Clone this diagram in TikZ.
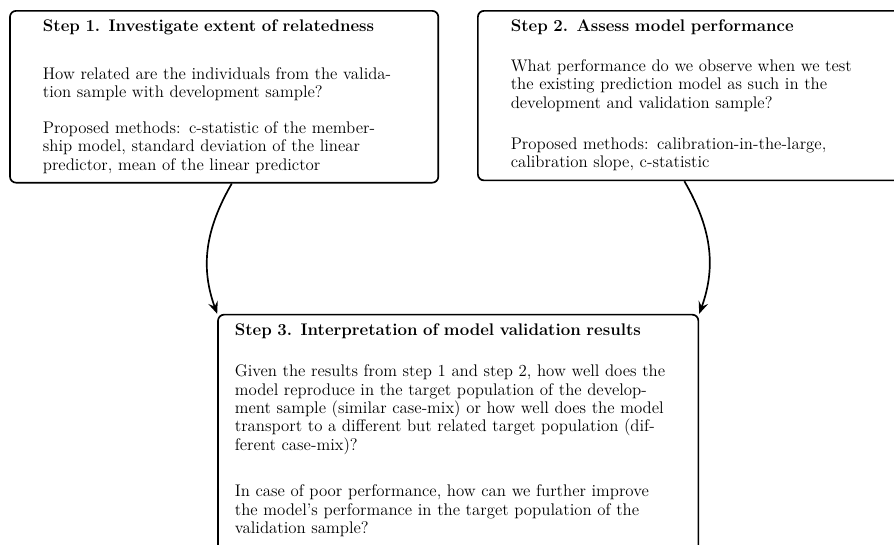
\documentclass[tikz,border=0pt]{standalone}
\usepackage{amsmath}
\usepackage{tikz}
\usetikzlibrary{arrows.meta}

\tikzset{
    stepbox/.style={draw, line width=1.1pt, rounded corners=4pt, align=left, anchor=north west,
        font=\fontsize{11pt}{12pt}\selectfont, inner xsep=21.5pt, inner ysep=6pt, text width=237pt},
    steparrow/.style={line width=1.1pt, -{Stealth[length=8pt, width=6.5pt, inset=3pt]}}
}

\begin{document}
\begin{tikzpicture}
        % Frame of the picture
        \path[use as bounding box, clip] (0,0) rectangle (20.54,-12.5);

        % Step 1
        \node[stepbox] (stepone) at (0.21,-0.23)
            {\textbf{Step 1. Investigate extent of relatedness}\\[19pt]
             How related are the individuals from the valida-\\
             tion sample with development sample?\\[11.5pt]
             Proposed methods: c-statistic of the member-\\
             ship model, standard deviation of the linear\\
             predictor, mean of the linear predictor};

        % Step 2
        \node[stepbox] (steptwo) at (10.96,-0.23)
            {\textbf{Step 2. Assess model performance}\\[14pt]
             What performance do we observe when we test\\
             the existing prediction model as such in the\\
             development and validation sample?\\[15pt]
             Proposed methods: calibration-in-the-large,\\
             calibration slope, c-statistic};

        % Step 3 (its lower edge runs off the page)
        \node[stepbox, inner xsep=11pt, text width=292pt] (stepthree) at (4.99,-7.21)
            {\textbf{Step 3. Interpretation of model validation results}\\[15pt]
             Given the results from step 1 and step 2, how well does the\\
             model reproduce in the target population of the develop-\\
             ment sample (similar case-mix) or how well does the model\\
             transport to a different but related target population (dif-\\
             ferent case-mix)?\\[18.5pt]
             In case of poor performance, how can we further improve\\
             the model's performance in the target population of the\\
             validation sample?\\[-4pt]\strut};

        % Arrows into step 3
        \draw[steparrow] ([xshift=5pt]stepone.south) to[out=-120, in=110] (stepthree.north west);
        \draw[steparrow] ([xshift=-5pt]steptwo.south) to[out=-60, in=70] (stepthree.north east);

    \end{tikzpicture}
\end{document}
